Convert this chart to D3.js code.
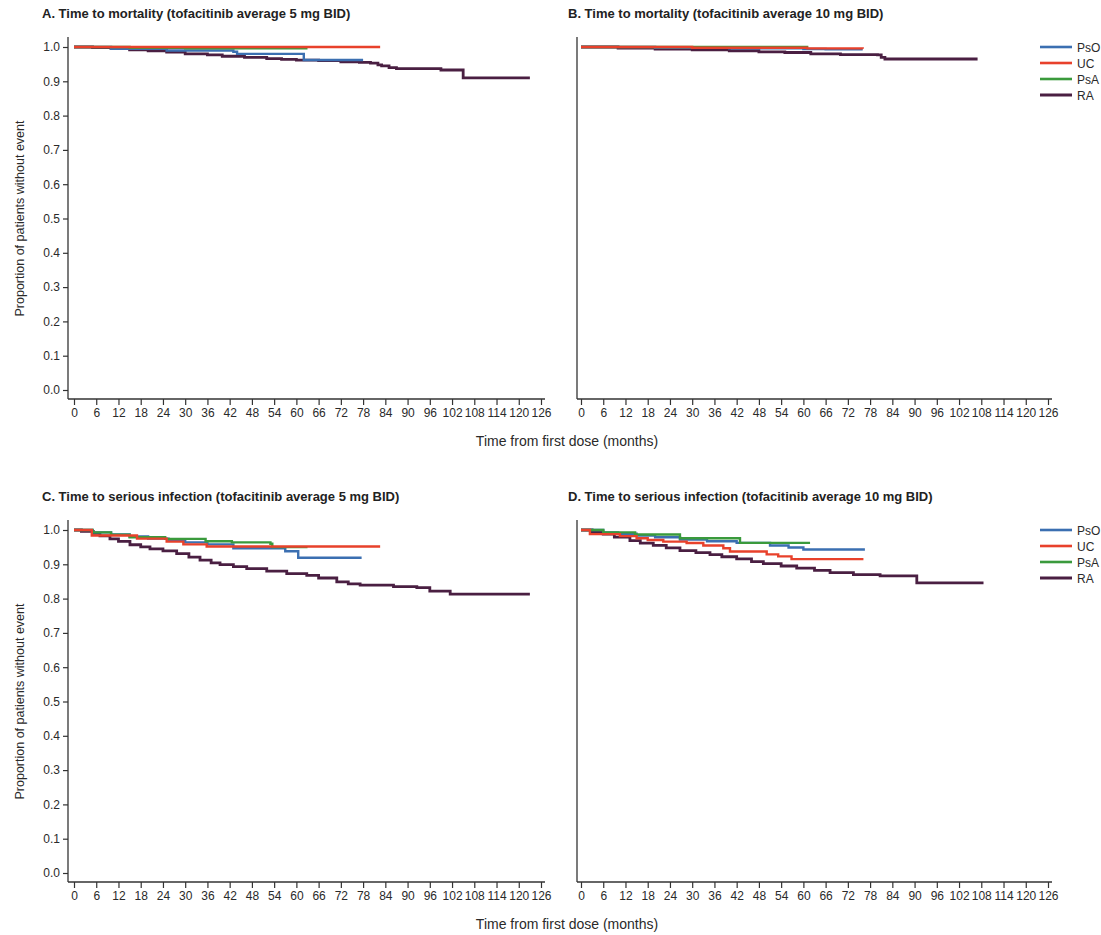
<!DOCTYPE html>
<html><head><meta charset="utf-8">
<script src="https://cdn.jsdelivr.net/npm/d3@7"></script>
<style>body{margin:0;background:#fff}svg{display:block;font-family:"Liberation Sans",Arial,sans-serif}</style>
</head><body><svg id="c" width="1101" height="935"></svg>
<script>
const seriesNames = ["PsO","UC","PsA","RA"];
const colors = {PsO:"#3b6fb1",UC:"#e8412b",PsA:"#3a9a3c",RA:"#4a1f42"};
const xTicks = d3.range(0,127,6);
const yTicks = [0,0.1,0.2,0.3,0.4,0.5,0.6,0.7,0.8,0.9,1.0];
const titles = ["A. Time to mortality (tofacitinib average 5 mg BID)","B. Time to mortality (tofacitinib average 10 mg BID)","C. Time to serious infection (tofacitinib average 5 mg BID)","D. Time to serious infection (tofacitinib average 10 mg BID)"];

// [month, survival] step points
const A_PsO = [[0,1],[10,0.995],[25,0.99],[43,0.986],[44,0.98],[62,0.962],[78,0.962]];
const A_UC  = [[0,1],[82.6,1]];
const A_PsA = [[0,1],[15,0.998],[30,0.996],[63,0.996]];
const A_RA  = [[0,1],[5,0.998],[10,0.995],[15,0.992],[20,0.989],[25,0.985],[30,0.98],[36,0.977],[40,0.973],[46,0.97],[52,0.966],[56,0.964],[60,0.962],[66,0.96],[72,0.957],[77,0.955],[80,0.953],[82,0.948],[83,0.945],[85,0.94],[87,0.937],[99,0.933],[105,0.91],[123,0.91]];

const B_PsO = [[0,1],[20,0.998],[40,0.996],[60,0.994],[66,0.993],[76,0.993]];
const B_UC  = [[0,1],[30,0.998],[61,0.996],[76,0.995]];
const B_PsA = [[0,1],[61,0.999]];
const B_RA  = [[0,1],[10,0.997],[20,0.994],[30,0.992],[40,0.989],[48,0.986],[55,0.984],[62,0.98],[70,0.978],[80,0.977],[81,0.97],[82,0.965],[107,0.965]];

const C_PsO = [[0,1],[5,0.993],[10,0.987],[15,0.981],[20,0.975],[25.5,0.969],[30,0.964],[36,0.958],[43,0.947],[57,0.938],[60.5,0.919],[77.6,0.919]];
const C_UC  = [[0,1],[4.8,0.984],[17,0.975],[25,0.966],[29.5,0.958],[35.8,0.952],[82.6,0.952]];
const C_PsA = [[0,1],[5,0.993],[10,0.986],[15,0.979],[24.6,0.974],[35.5,0.967],[42.6,0.964],[53,0.96],[53.5,0.95],[63,0.95]];
const C_RA  = [[0,1],[2,0.996],[5.2,0.99],[7,0.983],[9.7,0.974],[12,0.967],[15.1,0.957],[18,0.951],[20.5,0.945],[24,0.939],[27.7,0.931],[31,0.921],[34,0.912],[37,0.904],[39.4,0.899],[43,0.893],[46.6,0.8875],[52,0.88],[57.4,0.873],[62.8,0.868],[66,0.86],[70.9,0.849],[74,0.843],[77.2,0.839],[86.2,0.835],[92.5,0.832],[96,0.822],[101.5,0.813],[123,0.813]];

const D_PsO = [[0,1],[6,0.993],[10,0.989],[15,0.984],[20,0.979],[26.7,0.972],[34,0.967],[42,0.9625],[51,0.955],[56,0.949],[60,0.943],[76.6,0.943]];
const D_UC  = [[0,1],[2.4,0.988],[10.5,0.982],[15,0.976],[18,0.971],[22.2,0.966],[28.5,0.962],[33,0.955],[38.4,0.947],[40.2,0.9375],[50.1,0.929],[53.2,0.923],[56.8,0.915],[76.2,0.915]];
const D_PsA = [[0,1],[6,0.993],[14.6,0.987],[26.7,0.976],[42.9,0.9625],[61.8,0.9625]];
const D_RA  = [[0,1],[3,0.994],[6,0.988],[9,0.979],[13.2,0.969],[16,0.962],[19.5,0.955],[23,0.948],[26.7,0.94],[31,0.934],[34.8,0.928],[38,0.922],[42,0.916],[46,0.908],[49.2,0.902],[54,0.895],[58.2,0.889],[63,0.882],[67.2,0.876],[73.5,0.87],[80.7,0.866],[90.6,0.846],[108.6,0.846]];

const panels = [
  {data:{PsO:A_PsO,UC:A_UC,PsA:A_PsA,RA:A_RA}, x0:74, yAxisX:68, top:47, bottom:390, ylab:true, legend:false},
  {data:{PsO:B_PsO,UC:B_UC,PsA:B_PsA,RA:B_RA}, x0:581, yAxisX:577, top:47, bottom:390, ylab:false, legend:true},
  {data:{PsO:C_PsO,UC:C_UC,PsA:C_PsA,RA:C_RA}, x0:74, yAxisX:68, top:530, bottom:873, ylab:true, legend:false},
  {data:{PsO:D_PsO,UC:D_UC,PsA:D_PsA,RA:D_RA}, x0:581, yAxisX:577, top:530, bottom:873, ylab:false, legend:true}
];
const svg = d3.select("#c");
const axisColor = "#333";
const textColor = "#2a2a2a";
const pw = 467;

panels.forEach((p,i)=>{
  const x = d3.scaleLinear().domain([0,126]).range([p.x0, p.x0+pw]);
  const y = d3.scaleLinear().domain([0,1]).range([p.bottom, p.top]);
  const g = svg.append("g");
  const titleX = (i%2===0)?42:568;
  g.append("text").attr("x",titleX).attr("y",p.top-29).attr("font-size",13).attr("font-weight","bold").attr("fill","#222").text(titles[i]);
  const xAxisY = p.bottom+9;
  g.append("line").attr("x1",p.yAxisX).attr("x2",p.yAxisX).attr("y1",p.top-10).attr("y2",xAxisY).attr("stroke",axisColor).attr("stroke-width",1.3);
  if(p.ylab){
    const ya = g.append("g").attr("transform",`translate(${p.yAxisX},0)`).call(d3.axisLeft(y).tickValues(yTicks).tickFormat(d3.format(".1f")).tickSize(5).tickPadding(3));
    ya.select(".domain").remove();
    ya.selectAll("line").attr("stroke",axisColor).attr("stroke-width",1.2);
    ya.selectAll("text").attr("font-size",12).attr("fill",textColor).attr("font-family","Liberation Sans, Arial, sans-serif");
    g.append("text").attr("transform",`translate(24,${(p.top+p.bottom)/2}) rotate(-90)`).attr("text-anchor","middle").attr("font-size",12.5).attr("fill",textColor).text("Proportion of patients without event");
  }
  const xa = g.append("g").attr("transform",`translate(0,${xAxisY})`).call(d3.axisBottom(x).tickValues(xTicks).tickSize(6).tickPadding(3));
  xa.select(".domain").remove();
  xa.selectAll("line").attr("stroke",axisColor).attr("stroke-width",1.2);
  xa.selectAll("text").attr("font-size",12).attr("fill",textColor).attr("font-family","Liberation Sans, Arial, sans-serif");
  g.append("line").attr("x1",p.yAxisX).attr("x2",p.x0+pw+4).attr("y1",xAxisY).attr("y2",xAxisY).attr("stroke",axisColor).attr("stroke-width",1.3);
  if(i%2===1){
    g.append("text").attr("x",567).attr("y",xAxisY+47).attr("text-anchor","middle").attr("font-size",14).attr("fill",textColor).text("Time from first dose (months)");
  }
  const line = d3.line().x(d=>x(d[0])).y(d=>y(d[1])).curve(d3.curveStepAfter);
  ["RA","PsO","PsA","UC"].forEach(s=>{
    g.append("path").datum(p.data[s]).attr("d",line).attr("fill","none").attr("stroke",colors[s]).attr("stroke-width",s==="RA"?2.8:2.4);
  });
  if(p.legend){
    seriesNames.forEach((s,k)=>{
      const ly = p.top + k*16;
      g.append("line").attr("x1",1040).attr("x2",1072).attr("y1",ly).attr("y2",ly).attr("stroke",colors[s]).attr("stroke-width",s==="RA"?3:2.6);
      g.append("text").attr("x",1077).attr("y",ly+4.5).attr("font-size",12).attr("fill",textColor).text(s);
    });
  }
});
</script></body></html>
